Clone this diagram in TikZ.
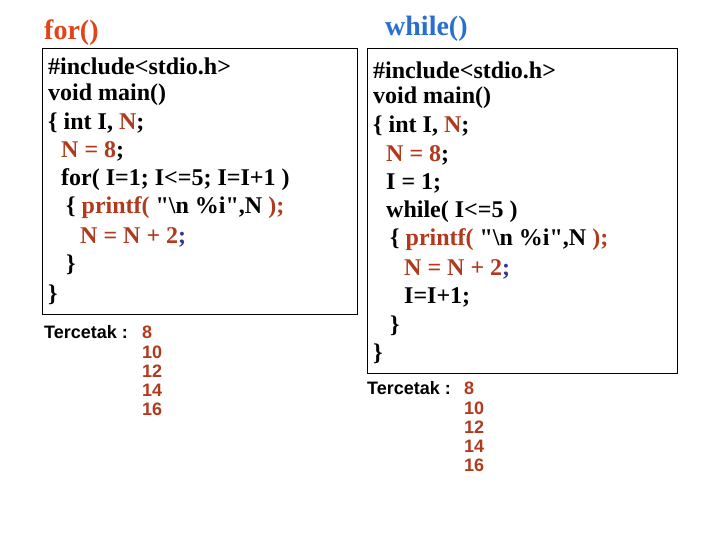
\documentclass[tikz,border=0pt]{standalone}
\usepackage{fontspec}
\setmainfont{Liberation Serif}
\setsansfont{Liberation Sans}
\definecolor{codebrown}{HTML}{B03A1E}
\definecolor{titlered}{HTML}{E0441A}
\definecolor{titleblue}{HTML}{2A6FD0}
\definecolor{semiblue}{HTML}{333399}
\tikzset{
  code/.style={anchor=west, inner sep=0pt, font=\fontsize{24}{26}\selectfont\bfseries},
  title/.style={anchor=west, inner sep=0pt, font=\fontsize{28}{30}\selectfont\bfseries},
  outtxt/.style={anchor=west, inner sep=0pt, font=\fontsize{18}{20}\selectfont\sffamily\bfseries},
  num/.style={outtxt, text=codebrown},
}
\newcommand{\br}[1]{\textcolor{codebrown}{#1}}
\begin{document}
\begin{tikzpicture}[x=1pt,y=-1pt]
\useasboundingbox (0,0) rectangle (720,540);

% for()
\node[title, text=titlered] (fortitle) at (44,33) {for()};
\draw (42,48) rectangle (357,314);
\node[code] (f1) at (48,66) {\#include<stdio.h>};
\node[code] (f2) at (48,95) {void main()};
\node[code] (f3) at (48,123) {\{ int I, \br{N};};
\node[code] (f4) at (61,151) {\br{N = 8};};
\node[code] (f5) at (61,180) {for( I=1; I<=5; I=I+1 )};
\node[code] (f6) at (66,208) {\{ \br{printf(} \textquotedbl\textbackslash n \%i\textquotedbl,N \br{);}};
\node[code] (f7) at (80,237) {\br{N = N + 2}\textcolor{semiblue}{;}};
\node[code] (f8) at (66,265) {\}};
\node[code] (f9) at (48,295) {\}};

\node[outtxt] (ftxt) at (44,332) {Tercetak :};
\node[num] (fn1) at (142,332) {8};
\node[num] (fn2) at (142,352) {10};
\node[num] (fn3) at (142,371) {12};
\node[num] (fn4) at (142,390) {14};
\node[num] (fn5) at (142,409) {16};

% while()
\node[title, text=titleblue] (whtitle) at (385,29) {while()};
\draw (367,48) rectangle (677,373);
\node[code] (w1) at (373,70) {\#include<stdio.h>};
\node[code] (w2) at (373,98) {void main()};
\node[code] (w3) at (373,126) {\{ int I, \br{N};};
\node[code] (w4) at (386,155) {\br{N = 8};};
\node[code] (w5) at (386,183) {I = 1;};
\node[code] (w6) at (386,212) {while( I<=5 )};
\node[code] (w7) at (390,240) {\{ \br{printf(} \textquotedbl\textbackslash n \%i\textquotedbl,N \br{);}};
\node[code] (w8) at (404,269) {\br{N = N + 2}\textcolor{semiblue}{;}};
\node[code] (w9) at (404,297) {I=I+1;};
\node[code] (w10) at (390,326) {\}};
\node[code] (w11) at (373,354) {\}};

\node[outtxt] (wtxt) at (367,388) {Tercetak :};
\node[num] (wn1) at (464,388) {8};
\node[num] (wn2) at (464,408) {10};
\node[num] (wn3) at (464,427) {12};
\node[num] (wn4) at (464,446) {14};
\node[num] (wn5) at (464,465) {16};
\end{tikzpicture}
\end{document}
